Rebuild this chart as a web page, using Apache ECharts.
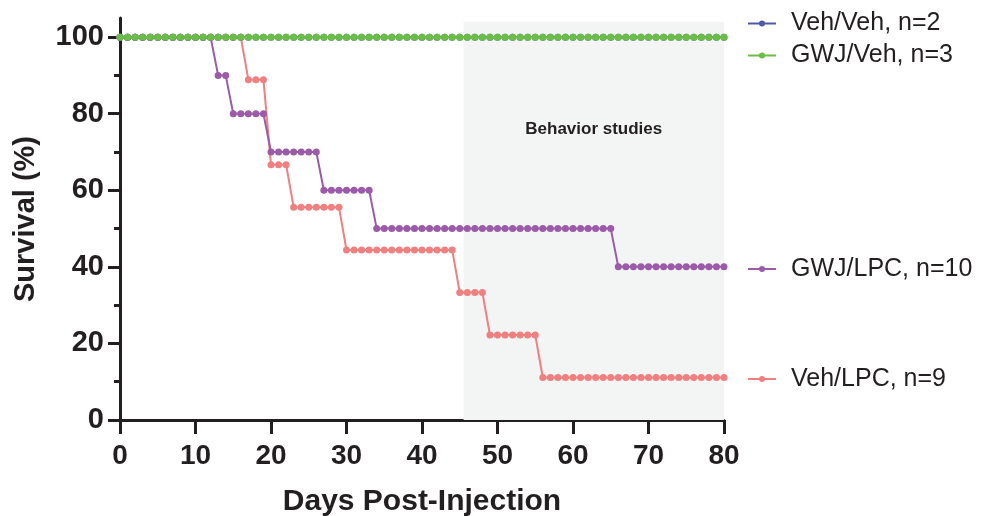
<!DOCTYPE html>
<html>
<head>
<meta charset="utf-8">
<script src="https://cdn.jsdelivr.net/npm/echarts@6/dist/echarts.min.js"></script>
<style>
html,body{margin:0;padding:0;background:#fff;}
#chart{width:982px;height:516px;}
</style>
</head>
<body>
<div id="chart"></div>
<script>
// ---- data ----
const days = [0,1,2,3,4,5,6,7,8,9,10,11,12,13,14,15,16,17,18,19,20,21,22,23,24,25,26,27,28,29,30,31,32,33,34,35,36,37,38,39,40,41,42,43,44,45,46,47,48,49,50,51,52,53,54,55,56,57,58,59,60,61,62,63,64,65,66,67,68,69,70,71,72,73,74,75,76,77,78,79,80];

const vehVeh = [100,100,100,100,100,100,100,100,100,100,100,100,100,100,100,100,100,100,100,100,100,100,100,100,100,100,100,100,100,100,100,100,100,100,100,100,100,100,100,100,100,100,100,100,100,100,100,100,100,100,100,100,100,100,100,100,100,100,100,100,100,100,100,100,100,100,100,100,100,100,100,100,100,100,100,100,100,100,100,100,100];

const gwjVeh = [100,100,100,100,100,100,100,100,100,100,100,100,100,100,100,100,100,100,100,100,100,100,100,100,100,100,100,100,100,100,100,100,100,100,100,100,100,100,100,100,100,100,100,100,100,100,100,100,100,100,100,100,100,100,100,100,100,100,100,100,100,100,100,100,100,100,100,100,100,100,100,100,100,100,100,100,100,100,100,100,100];

const gwjLpc = [100,100,100,100,100,100,100,100,100,100,100,100,100,90,90,80,80,80,80,80,70,70,70,70,70,70,70,60,60,60,60,60,60,60,50,50,50,50,50,50,50,50,50,50,50,50,50,50,50,50,50,50,50,50,50,50,50,50,50,50,50,50,50,50,50,50,40,40,40,40,40,40,40,40,40,40,40,40,40,40,40];

const vehLpc = [100,100,100,100,100,100,100,100,100,100,100,100,100,100,100,100,100,88.9,88.9,88.9,66.7,66.7,66.7,55.6,55.6,55.6,55.6,55.6,55.6,55.6,44.4,44.4,44.4,44.4,44.4,44.4,44.4,44.4,44.4,44.4,44.4,44.4,44.4,44.4,44.4,33.3,33.3,33.3,33.3,22.2,22.2,22.2,22.2,22.2,22.2,22.2,11.1,11.1,11.1,11.1,11.1,11.1,11.1,11.1,11.1,11.1,11.1,11.1,11.1,11.1,11.1,11.1,11.1,11.1,11.1,11.1,11.1,11.1,11.1,11.1,11.1];

const seriesNames = ['Veh/Veh, n=2', 'GWJ/Veh, n=3', 'GWJ/LPC, n=10', 'Veh/LPC, n=9'];
const xTicks = [0,10,20,30,40,50,60,70,80];
const yTicks = [0,20,40,60,80,100];
const yMinorTicks = [10,30,50,70,90];
const behaviorStart = 45.5, behaviorEnd = 80;
const behaviorLabel = 'Behavior studies';

// ---- style ----
const FONT = '"Liberation Sans", Arial, Helvetica, sans-serif';
const INK = '#231f20';
const colors = {veh: '#4c5ba8', gwjVeh: '#6abd45', gwjLpc: '#9b5ba8', vehLpc: '#f07f7f'};

function pairs(vals){ return days.map((d,i)=>[d, vals[i]]); }

function lineSeries(name, vals, color, z){
  return {
    name: name, type: 'line', data: pairs(vals), z: z,
    symbol: 'circle', symbolSize: 7, showSymbol: true,
    lineStyle: {color: color, width: 2},
    itemStyle: {color: color},
    emphasis: {disabled: true},
    animation: false
  };
}

const chart = echarts.init(document.getElementById('chart'), null, {renderer: 'canvas'});

const legendBase = {
  orient: 'vertical', left: 742, itemWidth: 28, itemHeight: 7.5, itemGap: 7,
  textStyle: {fontFamily: FONT, fontSize: 25, color: INK, padding: [0,0,0,10]},
  selectedMode: false
};

chart.setOption({
  animation: false,
  backgroundColor: '#fff',
  grid: {left: 120, right: 258, top: 18, bottom: 96, containLabel: false, outerBoundsMode: 'none'},
  legend: [
    Object.assign({}, legendBase, {data: [seriesNames[0], seriesNames[1]], top: 6}),
    Object.assign({}, legendBase, {data: [seriesNames[2]], top: 251.5}),
    Object.assign({}, legendBase, {data: [seriesNames[3]], top: 361.5})
  ],
  xAxis: {
    type: 'value', min: 0, max: 80, interval: 10,
    name: 'Days Post-Injection', nameLocation: 'middle', nameGap: 67,
    nameTextStyle: {fontFamily: FONT, fontSize: 30, fontWeight: 'bold', color: INK},
    axisLine: {show: true, lineStyle: {color: INK, width: 3}},
    axisTick: {show: true, length: 14, lineStyle: {color: INK, width: 3}},
    axisLabel: {margin: 22, fontFamily: FONT, fontSize: 28, fontWeight: 'bold', color: INK,
      customValues: xTicks},
    splitLine: {show: false}
  },
  yAxis: [{
    type: 'value', min: 0, max: 105,
    name: 'Survival (%)', nameLocation: 'middle', nameGap: 80,
    nameTextStyle: {fontFamily: FONT, fontSize: 29, fontWeight: 'bold', color: INK},
    axisLine: {show: true, lineStyle: {color: INK, width: 3}},
    axisTick: {show: true, length: 12, lineStyle: {color: INK, width: 3}, customValues: yTicks},
    axisLabel: {margin: 16, fontFamily: FONT, fontSize: 29, fontWeight: 'bold', color: INK,
      customValues: yTicks},
    splitLine: {show: false}
  }, {
    type: 'value', min: 0, max: 105, position: 'left', offset: 0,
    axisLine: {show: false},
    axisTick: {show: true, length: 6, lineStyle: {color: INK, width: 3}, customValues: yMinorTicks},
    axisLabel: {show: false},
    splitLine: {show: false}
  }],
  series: [
    {
      name: 'behavior', type: 'line', data: [], z: 1, silent: true,
      markArea: {
        silent: true,
        itemStyle: {color: '#f3f5f4'},
        label: {show: true, position: 'insideTop', distance: 99, fontFamily: FONT,
          fontSize: 17, fontWeight: 'bold', color: INK},
        data: [[{name: behaviorLabel, xAxis: behaviorStart, yAxis: 0}, {xAxis: behaviorEnd, yAxis: 104}]]
      }
    },
    lineSeries(seriesNames[3], vehLpc, colors.vehLpc, 3),
    lineSeries(seriesNames[2], gwjLpc, colors.gwjLpc, 4),
    lineSeries(seriesNames[0], vehVeh, colors.veh, 5),
    lineSeries(seriesNames[1], gwjVeh, colors.gwjVeh, 6)
  ]
});
</script>
</body>
</html>
